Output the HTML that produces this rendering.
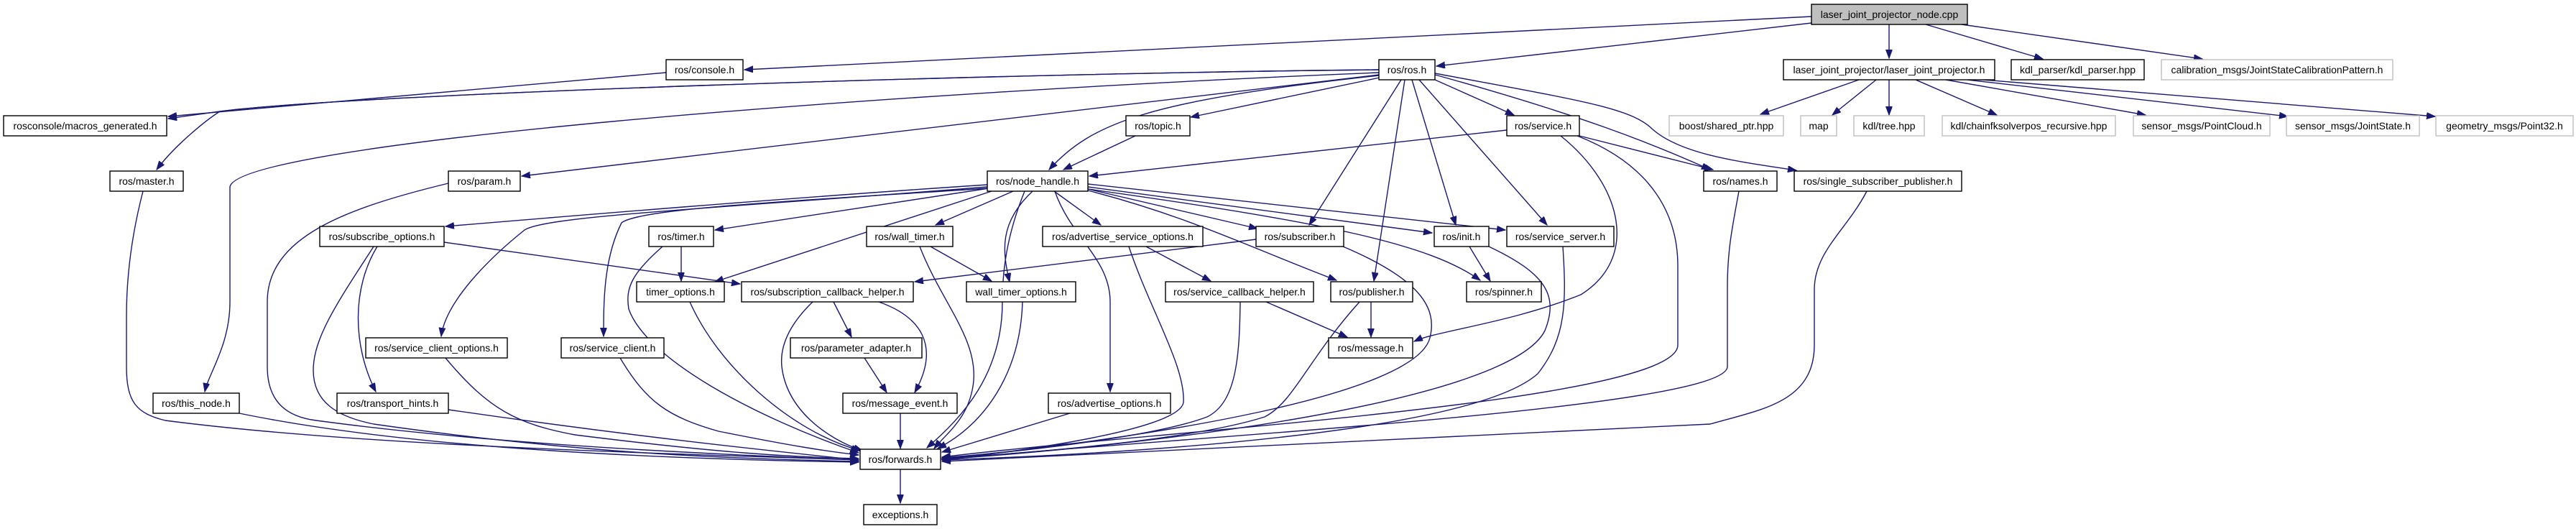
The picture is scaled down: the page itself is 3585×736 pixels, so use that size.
<!DOCTYPE html>
<html><head><meta charset="utf-8"><style>
html,body{margin:0;padding:0;background:#fff;}
svg{display:block;}
text{font-family:"Liberation Sans",sans-serif;font-size:14px;text-anchor:middle;fill:#000;}
.e{fill:none;stroke:#191970;stroke-width:1.4;marker-end:url(#a);}
.n{fill:#fff;stroke:#000;stroke-width:1.4;}
.g{fill:#fff;stroke:#bfbfbf;stroke-width:1.4;}
</style></head><body>
<svg width="3585" height="736" viewBox="0 0 3585 736" xmlns="http://www.w3.org/2000/svg">
<defs><marker id="a" markerUnits="userSpaceOnUse" markerWidth="14" markerHeight="10" refX="12" refY="4.5" orient="auto"><path d="M0,0 L12,4.5 L0,9 z" fill="#191970" stroke="#191970"/></marker></defs>
<g>
<path class="e" d="M2521,23 L1036,97"/>
<path class="e" d="M2521,32 L1999,92"/>
<path class="e" d="M2629,34 L2629,81"/>
<path class="e" d="M2680,34 L2843,82"/>
<path class="e" d="M2730,34 L3065,82"/>
<path class="e" d="M927,101 L234,162"/>
<path class="e" d="M1919,97 C1400,102 500,130 306,155 L234,165"/>
<path class="e" d="M1919,97 C1400,102 500,130 306,155 C290,165 245,200 218,236"/>
<path class="e" d="M1919,101 C1200,130 330,200 320,260 L320,420 C320,480 290,520 285,545"/>
<path class="e" d="M1919,104 L726,245"/>
<path class="e" d="M1920,108 L1657,163"/>
<path class="e" d="M1919,105 C1600,140 1520,170 1460,236"/>
<path class="e" d="M1580,189 L1480,236"/>
<path class="e" d="M2097,181 L1516,245"/>
<path class="e" d="M1997,111 L2107,160"/>
<path class="e" d="M1997,104 C2200,160 2300,200 2380,236"/>
<path class="e" d="M2198,189 L2384,236"/>
<path class="e" d="M1997,102 C2200,140 2270,150 2300,180 C2340,215 2420,225 2500,237"/>
<path class="e" d="M1950,111 L1822,313"/>
<path class="e" d="M1955,111 L1912,391"/>
<path class="e" d="M1965,111 L2026,313"/>
<path class="e" d="M1975,111 L2153,313"/>
<path class="e" d="M2172,189 C2260,260 2280,360 2200,410 C2100,450 2000,460 1968,475"/>
<path class="e" d="M2195,189 C2300,230 2335,300 2335,370 L2335,480 C2335,560 1600,600 1311,636"/>
<path class="e" d="M2420,266 C2410,320 2404,350 2404,400 L2404,510 C2404,570 1600,610 1311,640"/>
<path class="e" d="M2598,266 C2570,320 2525,350 2525,403 L2525,480 C2525,560 2450,570 2380,590 C1800,620 1500,630 1311,642"/>
<path class="e" d="M199,266 C185,320 176,380 176,440 L176,510 C176,560 190,575 230,585 C500,620 900,630 1195,640"/>
<path class="e" d="M624,255 C480,290 372,330 372,420 L372,510 C372,560 400,580 440,585 C700,620 1000,632 1195,640"/>
<path class="e" d="M1374,257 C1100,275 800,300 620,315"/>
<path class="e" d="M1376,262 L995,320"/>
<path class="e" d="M1410,266 L1302,313"/>
<path class="e" d="M1467,266 L1532,313"/>
<path class="e" d="M1514,263 L1750,318"/>
<path class="e" d="M1514,260 L1993,324"/>
<path class="e" d="M1514,256 L2095,320"/>
<path class="e" d="M1514,263 C1850,310 1990,340 2060,390"/>
<path class="e" d="M1514,265 C1650,300 1730,340 1860,390"/>
<path class="e" d="M1380,266 L995,392"/>
<path class="e" d="M1437,266 C1390,310 1395,350 1405,392"/>
<path class="e" d="M1374,260 C1000,290 760,300 730,320 C680,360 620,420 614,468"/>
<path class="e" d="M1374,262 C1100,280 890,290 865,310 C840,360 840,420 840,468"/>
<path class="e" d="M1468,266 C1490,330 1545,360 1545,420 L1545,545"/>
<path class="e" d="M1426,266 C1400,330 1395,380 1395,420 C1395,520 1340,580 1290,623"/>
<path class="e" d="M618,337 L1030,395"/>
<path class="e" d="M525,343 C490,400 490,480 523,545"/>
<path class="e" d="M520,343 C470,420 436,470 436,515 C436,560 470,580 520,590 C800,630 1000,638 1195,642"/>
<path class="e" d="M948,343 L948,391"/>
<path class="e" d="M922,343 C880,380 870,400 875,430 C900,500 1050,580 1195,630"/>
<path class="e" d="M1295,343 L1380,391"/>
<path class="e" d="M1280,343 C1310,420 1360,470 1355,530 C1350,580 1320,600 1300,624"/>
<path class="e" d="M1595,343 L1685,391"/>
<path class="e" d="M1571,343 C1600,430 1650,510 1647,560 C1640,600 1400,630 1311,640"/>
<path class="e" d="M1748,333 L1273,392"/>
<path class="e" d="M1869,343 C1980,390 2000,430 1990,470 C1970,550 1600,610 1311,638"/>
<path class="e" d="M2045,343 L2074,391"/>
<path class="e" d="M2072,343 C2150,380 2170,410 2150,460 C2100,560 1600,620 1311,639"/>
<path class="e" d="M2175,343 C2180,420 2180,470 2140,520 C2050,600 1600,630 1311,640"/>
<path class="e" d="M1160,420 L1185,469"/>
<path class="e" d="M1223,420 C1280,440 1310,480 1273,546"/>
<path class="e" d="M1131,420 C1100,450 1085,480 1088,510 C1095,570 1150,610 1200,627"/>
<path class="e" d="M1203,498 L1234,546"/>
<path class="e" d="M1253,575 L1253,624"/>
<path class="e" d="M1762,420 L1875,469"/>
<path class="e" d="M1726,420 C1725,500 1720,560 1680,580 C1600,610 1400,630 1311,637"/>
<path class="e" d="M1908,420 L1908,469"/>
<path class="e" d="M1892,420 C1820,500 1800,560 1760,580 C1650,615 1400,632 1311,638"/>
<path class="e" d="M960,420 C1000,510 1100,600 1197,627"/>
<path class="e" d="M1423,420 C1420,520 1370,590 1305,624"/>
<path class="e" d="M620,498 C680,570 720,590 800,605 C1000,630 1100,636 1195,638"/>
<path class="e" d="M863,498 C900,560 930,580 1000,600 C1100,620 1150,628 1195,633"/>
<path class="e" d="M624,570 C900,610 1100,630 1195,640"/>
<path class="e" d="M333,575 C600,630 1000,640 1195,643"/>
<path class="e" d="M1489,575 L1311,629"/>
<path class="e" d="M1253,653 L1253,700"/>
<path class="e" d="M2587,111 L2450,159"/>
<path class="e" d="M2611,111 L2550,160"/>
<path class="e" d="M2629,111 L2629,160"/>
<path class="e" d="M2666,111 L2779,160"/>
<path class="e" d="M2708,111 L2986,160"/>
<path class="e" d="M2738,111 L3184,162"/>
<path class="e" d="M2760,111 L3389,162"/>
</g>
<g>
<rect x="2521" y="6" width="217" height="28" fill="#bfbfbf" stroke="#000" stroke-width="1.4"/><text x="2629.5" y="25">laser_joint_projector_node.cpp</text>
<rect class="n" x="927" y="83" width="107" height="28"/><text x="980.5" y="102">ros/console.h</text>
<rect class="n" x="1919" y="83" width="78" height="28"/><text x="1958" y="102">ros/ros.h</text>
<rect class="n" x="2482" y="83" width="294" height="28"/><text x="2629" y="102">laser_joint_projector/laser_joint_projector.h</text>
<rect class="n" x="2799" y="83" width="185" height="28"/><text x="2891.5" y="102">kdl_parser/kdl_parser.hpp</text>
<rect class="g" x="3008" y="83" width="322" height="28"/><text x="3169" y="102">calibration_msgs/JointStateCalibrationPattern.h</text>
<rect class="n" x="5" y="161" width="227" height="28"/><text x="118.5" y="180">rosconsole/macros_generated.h</text>
<rect class="n" x="1567" y="161" width="89" height="28"/><text x="1611.5" y="180">ros/topic.h</text>
<rect class="n" x="2097" y="161" width="101" height="28"/><text x="2147.5" y="180">ros/service.h</text>
<rect class="g" x="2323" y="161" width="159" height="28"/><text x="2402.5" y="180">boost/shared_ptr.hpp</text>
<rect class="g" x="2506" y="161" width="50" height="28"/><text x="2531" y="180">map</text>
<rect class="g" x="2580" y="161" width="98" height="28"/><text x="2629" y="180">kdl/tree.hpp</text>
<rect class="g" x="2703" y="161" width="241" height="28"/><text x="2823.5" y="180">kdl/chainfksolverpos_recursive.hpp</text>
<rect class="g" x="2969" y="161" width="190" height="28"/><text x="3064" y="180">sensor_msgs/PointCloud.h</text>
<rect class="g" x="3182" y="161" width="185" height="28"/><text x="3274.5" y="180">sensor_msgs/JointState.h</text>
<rect class="g" x="3390" y="161" width="191" height="28"/><text x="3485.5" y="180">geometry_msgs/Point32.h</text>
<rect class="n" x="153" y="238" width="102" height="28"/><text x="204" y="257">ros/master.h</text>
<rect class="n" x="624" y="238" width="100" height="28"/><text x="674" y="257">ros/param.h</text>
<rect class="n" x="1374" y="238" width="140" height="28"/><text x="1444" y="257">ros/node_handle.h</text>
<rect class="n" x="2371" y="238" width="102" height="28"/><text x="2422" y="257">ros/names.h</text>
<rect class="n" x="2497" y="238" width="233" height="28"/><text x="2613.5" y="257">ros/single_subscriber_publisher.h</text>
<rect class="n" x="445" y="315" width="173" height="28"/><text x="531.5" y="334">ros/subscribe_options.h</text>
<rect class="n" x="903" y="315" width="90" height="28"/><text x="948" y="334">ros/timer.h</text>
<rect class="n" x="1206" y="315" width="120" height="28"/><text x="1266" y="334">ros/wall_timer.h</text>
<rect class="n" x="1451" y="315" width="223" height="28"/><text x="1562.5" y="334">ros/advertise_service_options.h</text>
<rect class="n" x="1748" y="315" width="122" height="28"/><text x="1809" y="334">ros/subscriber.h</text>
<rect class="n" x="1996" y="315" width="76" height="28"/><text x="2034" y="334">ros/init.h</text>
<rect class="n" x="2097" y="315" width="149" height="28"/><text x="2171.5" y="334">ros/service_server.h</text>
<rect class="n" x="886" y="392" width="122" height="28"/><text x="947" y="411">timer_options.h</text>
<rect class="n" x="1032" y="392" width="239" height="28"/><text x="1151.5" y="411">ros/subscription_callback_helper.h</text>
<rect class="n" x="1345" y="392" width="152" height="28"/><text x="1421" y="411">wall_timer_options.h</text>
<rect class="n" x="1622" y="392" width="206" height="28"/><text x="1725" y="411">ros/service_callback_helper.h</text>
<rect class="n" x="1852" y="392" width="114" height="28"/><text x="1909" y="411">ros/publisher.h</text>
<rect class="n" x="2041" y="392" width="104" height="28"/><text x="2093" y="411">ros/spinner.h</text>
<rect class="n" x="509" y="470" width="197" height="28"/><text x="607.5" y="489">ros/service_client_options.h</text>
<rect class="n" x="781" y="470" width="143" height="28"/><text x="852.5" y="489">ros/service_client.h</text>
<rect class="n" x="1100" y="470" width="183" height="28"/><text x="1191.5" y="489">ros/parameter_adapter.h</text>
<rect class="n" x="1849" y="470" width="117" height="28"/><text x="1907.5" y="489">ros/message.h</text>
<rect class="n" x="213" y="547" width="120" height="28"/><text x="273" y="566">ros/this_node.h</text>
<rect class="n" x="469" y="547" width="155" height="28"/><text x="546.5" y="566">ros/transport_hints.h</text>
<rect class="n" x="1173" y="547" width="159" height="28"/><text x="1252.5" y="566">ros/message_event.h</text>
<rect class="n" x="1459" y="547" width="170" height="28"/><text x="1544" y="566">ros/advertise_options.h</text>
<rect class="n" x="1197" y="625" width="112" height="28"/><text x="1253" y="644">ros/forwards.h</text>
<rect class="n" x="1202" y="702" width="102" height="28"/><text x="1253" y="721">exceptions.h</text>
</g>
</svg>
</body></html>
